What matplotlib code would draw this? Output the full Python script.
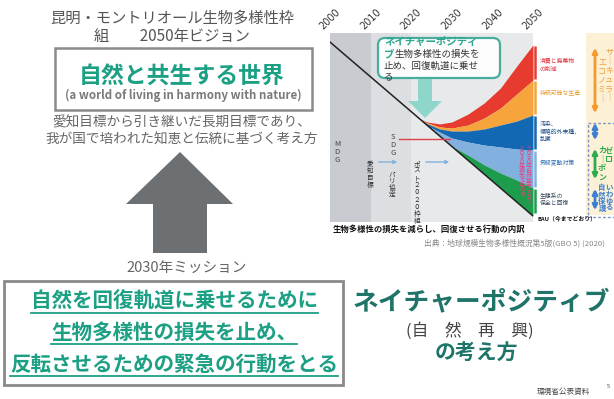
import matplotlib
matplotlib.use("Agg")
import matplotlib.pyplot as plt
from matplotlib.patches import Polygon, Rectangle, FancyBboxPatch, FancyArrowPatch

plt.rcParams['font.family'] = ['Noto Sans CJK JP', 'DejaVu Sans']

W, H = 614, 399

# --- GBO-5 panel: biodiversity index (0-100) ---
year_ticks = [2000, 2010, 2020, 2030, 2040, 2050]
band_edges = [2000, 2010, 2020, 2050]
band_colors = ['#c8cbd0', '#dcdee1', '#e8e9eb']

bau_years = [2000, 2050]
bau_line = [95.2, 3.2]

years = [2022, 2024, 2027, 2030, 2034, 2038, 2042, 2046, 2050]
bau = [54.7, 51.0, 45.5, 40.0, 32.6, 25.3, 17.9, 10.6, 3.2]
top_consumption = [54.7, 52.9, 51.9, 52.9, 57.1, 63.0, 70.9, 82.5, 93.7]
top_production = [54.7, 52.4, 50.3, 49.7, 51.3, 55.0, 60.3, 67.7, 75.1]
top_pollution = [54.7, 51.9, 49.2, 48.1, 48.1, 49.2, 51.3, 53.4, 56.6]
top_climate = [54.7, 51.0, 47.6, 44.4, 42.3, 40.7, 39.7, 38.6, 38.1]
top_ecosystem = [54.7, 51.0, 45.5, 40.0, 35.4, 30.2, 25.9, 22.2, 18.0]

layer_names = ['消費と廃棄物\nの削減', '持続可能な生産', '汚染、\n侵略的外来種、\n乱獲',
               '気候変動対策', '生態系の\n保全と回復']
layer_colors = ['#e63b2e', '#f5a53b', '#1268b3', '#82b1e0', '#1c9c4c']
label_colors = ['#e0303a', '#eaa030', '#1f4e8a', '#2a6ab0', '#3a4a5a']

TEAL = '#1ca084'
DARK_TEAL = '#1e7468'
GRAY = '#666666'

fig = plt.figure(figsize=(W / 100, H / 100), dpi=100)

# chart axes placed in pixel space
ax = fig.add_axes([330 / W, 1 - 222 / H, 203 / W, 189 / H])
ax.set_xlim(2000, 2050)
ax.set_ylim(0, 100)
for i in range(len(band_colors)):
    ax.axvspan(band_edges[i], band_edges[i + 1], color=band_colors[i], lw=0, zorder=0)

tops = [top_consumption, top_production, top_pollution, top_climate, top_ecosystem, bau]
for i in range(5):
    ax.fill_between(years, tops[i + 1], tops[i], color=layer_colors[i], lw=0, zorder=2)
ax.plot(bau_years, bau_line, color='#222222', lw=1.1, zorder=3)

ax.xaxis.tick_top()
ax.set_xticks(year_ticks)
ax.set_xticklabels([str(y) for y in year_ticks], rotation=45, ha='center', va='bottom',
                   fontsize=7, color='#333333', family=['DejaVu Sans'])
ax.tick_params(axis='x', length=0, pad=1)
ax.set_yticks([])
for s in ax.spines.values():
    s.set_visible(False)

# overlay for the rest of the slide, in pixel coordinates
ov = fig.add_axes([0, 0, 1, 1])
ov.set_xlim(0, W)
ov.set_ylim(H, 0)
ov.axis('off')
ov.patch.set_alpha(0)


def vtext(x, y, s, size, color, weight='normal', ls=1.0):
    ov.text(x, y, '\n'.join(s), ha='center', va='top', fontsize=size, color=color,
            weight=weight, linespacing=ls)


# ---- left: 2050 vision ----
ov.text(172, 18, '昆明・モントリオール生物多様性枠', ha='center', va='center', fontsize=11, color='#555555')
ov.text(172, 36, '組\u3000\u30002050年ビジョン', ha='center', va='center', fontsize=11, color='#555555')
ov.add_patch(Rectangle((55, 48), 257, 62, fill=False, ec='#8a8a8a', lw=1.8))
ov.text(182, 76, '自然と共生する世界', ha='center', va='center', fontsize=16.5, color=TEAL, weight='bold')
ov.text(183, 95, '(a world of living in harmony with nature)', ha='center', va='center', fontsize=8.3,
        color='#7a7a7a', weight='bold')
ov.text(182, 123, '愛知目標から引き継いだ長期目標であり、', ha='center', va='center', fontsize=9.8, color=GRAY)
ov.text(182, 140, '我が国で培われた知恵と伝統に基づく考え方', ha='center', va='center', fontsize=9.8, color=GRAY)

ov.add_patch(Polygon([(180, 152), (233, 204), (207, 204), (207, 253), (153, 253), (153, 204), (126, 204)],
                     closed=True, fc='#6d7073', ec='none'))
ov.text(187, 268, '2030年ミッション', ha='center', va='center', fontsize=10.5, color=GRAY)

# ---- 2030 mission box ----
ov.add_patch(Rectangle((4, 281), 339, 104, fill=False, ec='#8a8a8a', lw=2))
mission = ['自然を回復軌道に乗せるために', '生物多様性の損失を止め、', '反転させるための緊急の行動をとる']
mission_y = [301, 332, 364]
mtexts = []
for line, y in zip(mission, mission_y):
    mtexts.append(ov.text(174, y, line, ha='center', va='center', fontsize=14.8, color=TEAL, weight='bold'))

fig.canvas.draw()
inv = ov.transData.inverted()
for t, y in zip(mtexts, mission_y):
    bb = t.get_window_extent().transformed(inv)
    ov.plot([bb.x0, bb.x1], [y + 12, y + 12], color=TEAL, lw=1.3)

# ---- nature positive title ----
ov.text(481, 302, 'ネイチャーポジティブ', ha='center', va='center', fontsize=18.5, color=DARK_TEAL, weight='bold')
ov.text(470, 331, '(自\u3000然\u3000再\u3000興)', ha='center', va='center', fontsize=12, color='#444444')
ov.text(476, 353, 'の考え方', ha='center', va='center', fontsize=15, color=DARK_TEAL, weight='bold')
ov.text(563, 392, '環境省公表資料', ha='center', va='center', fontsize=5.5, color='#444444')
ov.text(608, 387, '5', ha='center', va='center', fontsize=4, color='#444444')

# ---- chart annotations ----
ov.add_patch(FancyBboxPatch((378, 38), 122, 40, boxstyle='round,pad=0,rounding_size=7',
                            fc='white', ec='#3aa897', lw=1.6, alpha=0.92, zorder=4))
ov.text(384, 42, 'ネイチャーポジティ', ha='left', va='center', fontsize=7.5, color='#2aa58e',
        weight='bold', zorder=5)
ov.text(384, 54, 'ブ', ha='left', va='center', fontsize=7.5, color='#2aa58e', weight='bold', zorder=5)
ov.text(395, 54, '生物多様性の損失を', ha='left', va='center', fontsize=6.8, color='#333333', zorder=5)
ov.text(384, 66, '止め、回復軌道に乗せ', ha='left', va='center', fontsize=6.8, color='#333333', zorder=5)
ov.text(384, 77, 'る', ha='left', va='center', fontsize=6.8, color='#333333', zorder=5)
ov.add_patch(Polygon([(418, 79), (432, 79), (432, 101), (442, 101), (425, 118), (408, 101), (418, 101)],
                     closed=True, fc='#8fd6ca', ec='none', zorder=4))

vtext(337, 140, 'MDG', 5.5, '#444444')
vtext(393, 133, 'SDG', 5.5, '#444444')
ov.plot([399, 450], [139, 139], color='#e04048', lw=1)
vtext(370, 160, '愛知目標', 4.8, '#333333', ls=0.85)
vtext(392, 170, 'パリ協定', 4.8, '#333333', ls=0.85)
vtext(417, 160, 'ポスト２０２０枠組', 4.8, '#333333', ls=0.85)
for x0, x1 in [(376, 400), (423, 452)]:
    ov.add_patch(FancyArrowPatch((x0, 162), (x1, 162), arrowstyle='-|>', mutation_scale=5,
                                 color='#7fb2dd', lw=1))
vtext(522, 147, '２０３０年損失を止める', 4.3, '#e8407a', ls=0.8)
vtext(529, 147, '２０５０年自然共生ビジョン', 4.3, '#e8407a', ls=0.8)

# coloured ticks on the right edge and layer labels
bar_y = [(45, 80), (80, 115), (115, 150), (150, 188), (188, 214)]
label_y = [58, 92, 121, 163, 193]
for (y0, y1), c, name, lc, ly in zip(bar_y, layer_colors, layer_names, label_colors, label_y):
    ov.plot([535, 535], [y0 + 1, y1 - 1], color=c, lw=1.8, solid_capstyle='butt')
    ov.text(540, ly, name, ha='left', va='top' if '\n' in name else 'center', fontsize=4.2,
            color=lc, linespacing=1.5)
ov.text(538, 218, 'BAU（今までどおり）', ha='left', va='center', fontsize=4.2, color='#111111', weight='bold')

ov.text(333, 229, '生物多様性の損失を減らし、回復させる行動の内訳', ha='left', va='center',
        fontsize=6, color='#111111', weight='bold')
ov.text(424, 243, '出典：地球規模生物多様性概況第5版(GBO 5) (2020)', ha='left', va='center',
        fontsize=5.6, color='#888888')

# right panel: circular economy / zero carbon / nature
ov.add_patch(Rectangle((586, 33), 40, 182, fc='#fcf1d6', ec='none', zorder=0))
ov.add_patch(Rectangle((588, 123), 40, 94, fill=False, ec='#7b96c6', lw=1, ls=(0, (2, 1.5))))
arrows = [(45, 116, '#f39a2a'), (120, 143, '#3d7fd0'), (146, 182, '#2eab4a'), (186, 213, '#3d7fd0')]
for y0, y1, c in arrows:
    ov.add_patch(FancyArrowPatch((595, y0), (595, y1), arrowstyle='<|-|>', mutation_scale=7,
                                 color=c, lw=2))
vtext(602, 58, 'エコノミ｜', 5.8, '#f39a2a')
vtext(609, 48, 'サ｜キュラ｜', 5.8, '#f39a2a')
vtext(602, 146, 'カ｜ボン', 5.8, '#2eab4a', weight='bold')
vtext(609, 146, 'ゼロ', 5.8, '#2eab4a', weight='bold')
vtext(602, 184, '自然保護', 5.3, '#3d7fd0', weight='bold', ls=0.95)
vtext(609, 184, 'いわゆる', 5.3, '#3d7fd0', weight='bold', ls=0.95)

fig.savefig('out.png', dpi=100)
